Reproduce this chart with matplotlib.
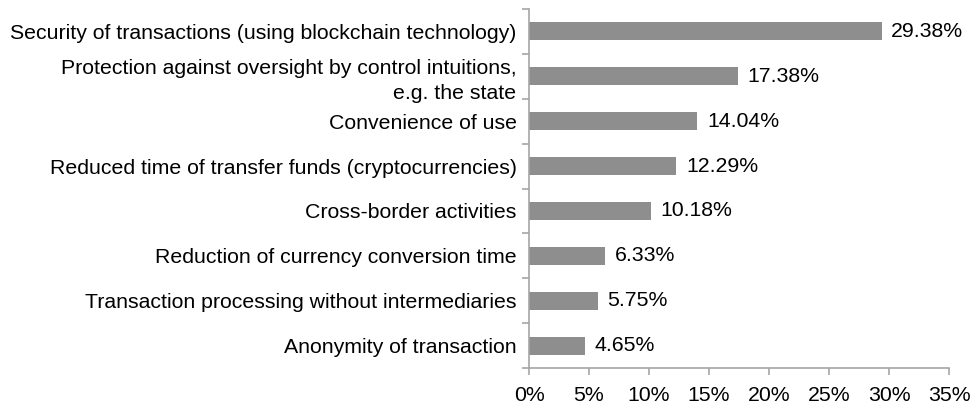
import matplotlib.pyplot as plt
import numpy as np

plt.rcParams['font.family'] = ['Liberation Sans', 'DejaVu Sans']

categories = [
    'Security of transactions (using blockchain technology)',
    'Protection against oversight by control intuitions,\ne.g. the state',
    'Convenience of use',
    'Reduced time of transfer funds (cryptocurrencies)',
    'Cross-border activities',
    'Reduction of currency conversion time',
    'Transaction processing without intermediaries',
    'Anonymity of transaction',
]
values = [29.38, 17.38, 14.04, 12.29, 10.18, 6.33, 5.75, 4.65]
xticks = [0, 5, 10, 15, 20, 25, 30, 35]

axis_grey = '#a6a6a6'
bar_grey = '#8e8e8e'
fs = 15.3

fig = plt.figure(figsize=(9.75, 4.04), dpi=100)
ax = fig.add_axes([0.5426, 0.0891, 0.4307, 0.8886])

# top category first
y = np.arange(len(categories))[::-1]
ax.barh(y, values, height=0.4, color=bar_grey)

for yi, v in zip(y, values):
    ax.text(v + 0.8, yi, f'{v:.2f}%', va='center', ha='left', fontsize=fs)

ax.set_xlim(0, 35)
ax.set_ylim(-0.5, len(categories) - 0.5)
ax.set_xticks(xticks)
ax.set_xticklabels([f'{t}%' for t in xticks], fontsize=fs)
ax.set_yticks(y)
ax.set_yticklabels(categories, fontsize=fs, linespacing=1.35)
ax.set_yticks(np.arange(len(categories) + 1) - 0.5, minor=True)

ax.tick_params(axis='y', which='major', length=0, pad=9)
ax.tick_params(axis='y', which='minor', length=5, color=axis_grey, width=1.2)
ax.tick_params(axis='x', length=5, color=axis_grey, width=1.2, pad=8)

for side in ['top', 'right']:
    ax.spines[side].set_visible(False)
for side in ['left', 'bottom']:
    ax.spines[side].set_color(axis_grey)
    ax.spines[side].set_linewidth(1.2)

fig.savefig('out.png', dpi=100)
